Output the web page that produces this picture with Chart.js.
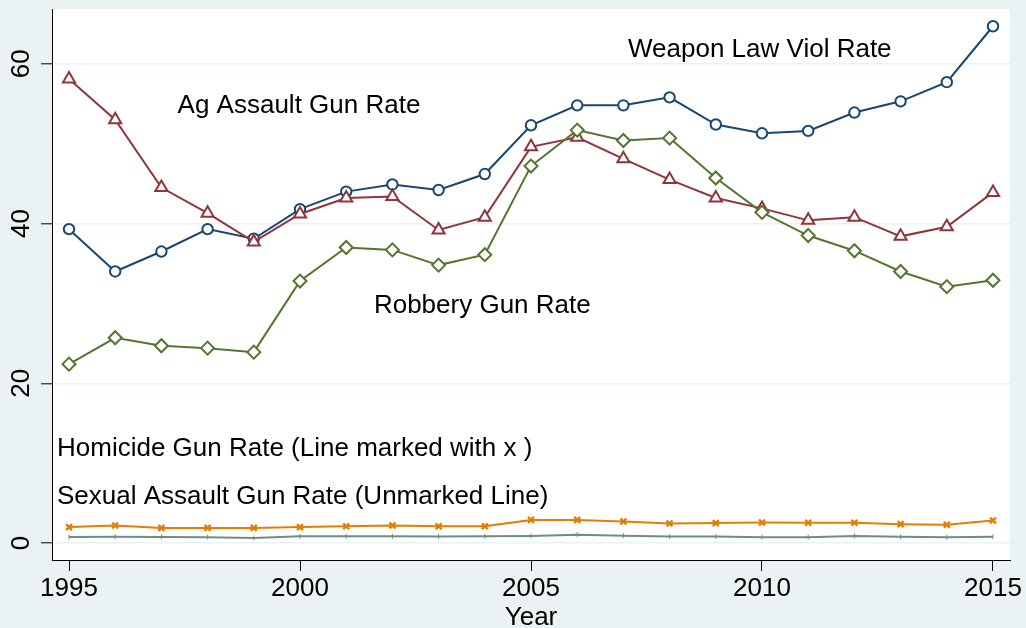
<!DOCTYPE html>
<html>
<head>
<meta charset="utf-8">
<title>Gun crime rates</title>
<script src="https://cdn.jsdelivr.net/npm/chart.js@4.4.1/dist/chart.umd.min.js"></script>
<style>
  html, body { margin: 0; padding: 0; background: #eaf2f3; }
  #wrap { width: 1026px; height: 628px; }
</style>
</head>
<body>
<div id="wrap"><canvas id="myChart" width="1026" height="628"></canvas></div>
<script>
// rates per year
const years = [1995, 1996, 1997, 1998, 1999, 2000, 2001, 2002, 2003, 2004, 2005,
               2006, 2007, 2008, 2009, 2010, 2011, 2012, 2013, 2014, 2015];
const weaponLawViol = [39.3, 34.0, 36.5, 39.3, 38.1, 41.8, 44.0, 44.9, 44.2, 46.2, 52.3,
                       54.8, 54.8, 55.8, 52.4, 51.3, 51.6, 53.9, 55.3, 57.7, 64.7];
const agAssaultGun = [58.1, 53.0, 44.5, 41.3, 37.7, 41.2, 43.2, 43.4, 39.2, 40.8, 49.6,
                      50.8, 48.1, 45.5, 43.2, 41.9, 40.4, 40.8, 38.4, 39.6, 43.9];
const robberyGun = [22.4, 25.7, 24.7, 24.4, 23.9, 32.8, 37.0, 36.7, 34.8, 36.1, 47.2,
                    51.7, 50.4, 50.7, 45.7, 41.4, 38.5, 36.6, 34.0, 32.1, 32.9];
const homicideGun = [2.0, 2.2, 1.9, 1.9, 1.9, 2.0, 2.1, 2.2, 2.1, 2.1, 2.9,
                     2.9, 2.7, 2.45, 2.5, 2.58, 2.55, 2.55, 2.37, 2.3, 2.83];
const sexAssaultGun = [0.75, 0.8, 0.77, 0.74, 0.62, 0.84, 0.84, 0.84, 0.82, 0.86, 0.9,
                       1.04, 0.93, 0.82, 0.82, 0.74, 0.74, 0.9, 0.78, 0.74, 0.78];

const xTicks = [1995, 2000, 2005, 2010, 2015];
const yTicks = [0, 20, 40, 60];

const FONT = '"Liberation Sans", Arial, Helvetica, sans-serif';

function pts(vals) {
  return years.map((y, i) => ({ x: y, y: vals[i] }));
}

// white plot region
const plotBg = {
  id: 'plotBg',
  beforeDraw(chart) {
    const a = chart.chartArea;
    chart.ctx.save();
    chart.ctx.fillStyle = '#ffffff';
    chart.ctx.fillRect(a.left, a.top, a.right - a.left, a.bottom - a.top);
    chart.ctx.restore();
  }
};

// vertical y tick labels
const yLabels = {
  id: 'yLabels',
  afterDraw(chart) {
    const ctx = chart.ctx;
    const ys = chart.scales.y;
    ctx.save();
    ctx.font = '26px ' + FONT;
    ctx.fillStyle = '#000';
    ctx.textAlign = 'center';
    ctx.textBaseline = 'middle';
    yTicks.forEach(v => {
      ctx.save();
      ctx.translate(22, ys.getPixelForValue(v));
      ctx.rotate(-Math.PI / 2);
      ctx.fillText(String(v), 0, 0);
      ctx.restore();
    });
    ctx.restore();
  }
};

// series names written inside the plot
const seriesText = {
  id: 'seriesText',
  afterDatasetsDraw(chart) {
    const ctx = chart.ctx;
    const xs = chart.scales.x, ys = chart.scales.y;
    const items = [
      ['Weapon Law Viol Rate', 2007.1, 61.8],
      ['Ag Assault Gun Rate', 1997.35, 54.7],
      ['Robbery Gun Rate', 2001.6, 29.7],
      ['Homicide Gun Rate (Line marked with x )', 1994.74, 11.85],
      ['Sexual Assault Gun Rate (Unmarked Line)', 1994.74, 5.85]
    ];
    ctx.save();
    ctx.font = '26px ' + FONT;
    ctx.fillStyle = '#000';
    ctx.textAlign = 'left';
    ctx.textBaseline = 'middle';
    items.forEach(([t, x, y]) => ctx.fillText(t, xs.getPixelForValue(x), ys.getPixelForValue(y)));
    ctx.restore();
  }
};

const ctx = document.getElementById('myChart');
const chart = new Chart(ctx, {
  type: 'line',
  data: {
    datasets: [
      {
        label: 'Robbery Gun Rate',
        data: pts(robberyGun),
        borderColor: '#55752f', backgroundColor: '#ffffff',
        borderWidth: 2, pointStyle: 'rectRot', pointRadius: 6.5,
        pointBorderWidth: 2, pointBackgroundColor: '#ffffff'
      },
      {
        label: 'Ag Assault Gun Rate',
        data: pts(agAssaultGun),
        borderColor: '#90353b', backgroundColor: '#ffffff',
        borderWidth: 2, pointStyle: 'triangle', pointRadius: 7,
        pointBorderWidth: 2, pointBackgroundColor: '#ffffff'
      },
      {
        label: 'Weapon Law Viol Rate',
        data: pts(weaponLawViol),
        borderColor: '#1a476f', backgroundColor: '#ffffff',
        borderWidth: 2, pointStyle: 'circle', pointRadius: 5.2,
        pointBorderWidth: 2, pointBackgroundColor: '#ffffff'
      },
      {
        label: 'Homicide Gun Rate',
        data: pts(homicideGun),
        borderColor: '#e37e00', backgroundColor: '#e37e00',
        borderWidth: 2, pointStyle: 'crossRot', pointRadius: 4.2,
        pointBorderWidth: 2.4
      },
      {
        label: 'Sexual Assault Gun Rate',
        data: pts(sexAssaultGun),
        borderColor: '#6e8e84', backgroundColor: '#6e8e84',
        borderWidth: 2, pointStyle: 'line', pointRotation: 90, pointRadius: 2.5,
        pointBorderWidth: 1
      }
    ]
  },
  options: {
    responsive: false,
    animation: false,
    events: [],
    layout: { padding: { top: 7, right: 16, left: 0, bottom: 0 } },
    elements: { line: { tension: 0 } },
    plugins: { legend: { display: false }, tooltip: { enabled: false } },
    scales: {
      x: {
        type: 'linear',
        min: 1994.632, max: 2015.368,
        afterBuildTicks: s => { s.ticks = xTicks.map(v => ({ value: v })); },
        afterFit: s => { s.height = 68; s.paddingLeft = 0; s.paddingRight = 0; },
        border: { display: true, color: '#000', width: 1 },
        grid: { drawOnChartArea: false, drawTicks: true, tickLength: 11, tickColor: '#000', tickWidth: 1 },
        ticks: {
          autoSkip: false, maxRotation: 0, padding: 2, color: '#000',
          font: { family: FONT, size: 26 },
          callback: v => String(v)
        },
        title: {
          display: true, text: 'Year', color: '#000', padding: 0,
          font: { family: FONT, size: 26, lineHeight: 0.8 }
        }
      },
      y: {
        type: 'linear',
        min: -2.12, max: 66.86,
        afterBuildTicks: s => { s.ticks = yTicks.map(v => ({ value: v })); },
        afterFit: s => { s.width = 52; s.paddingTop = 0; s.paddingBottom = 0; },
        border: { display: true, color: '#000', width: 1 },
        grid: { color: '#eaf2f3', lineWidth: 1.6, drawTicks: true, tickLength: 11, tickColor: '#000', tickWidth: 1 },
        ticks: { display: false }
      }
    }
  },
  plugins: [plotBg, yLabels, seriesText]
});
</script>
</body>
</html>
